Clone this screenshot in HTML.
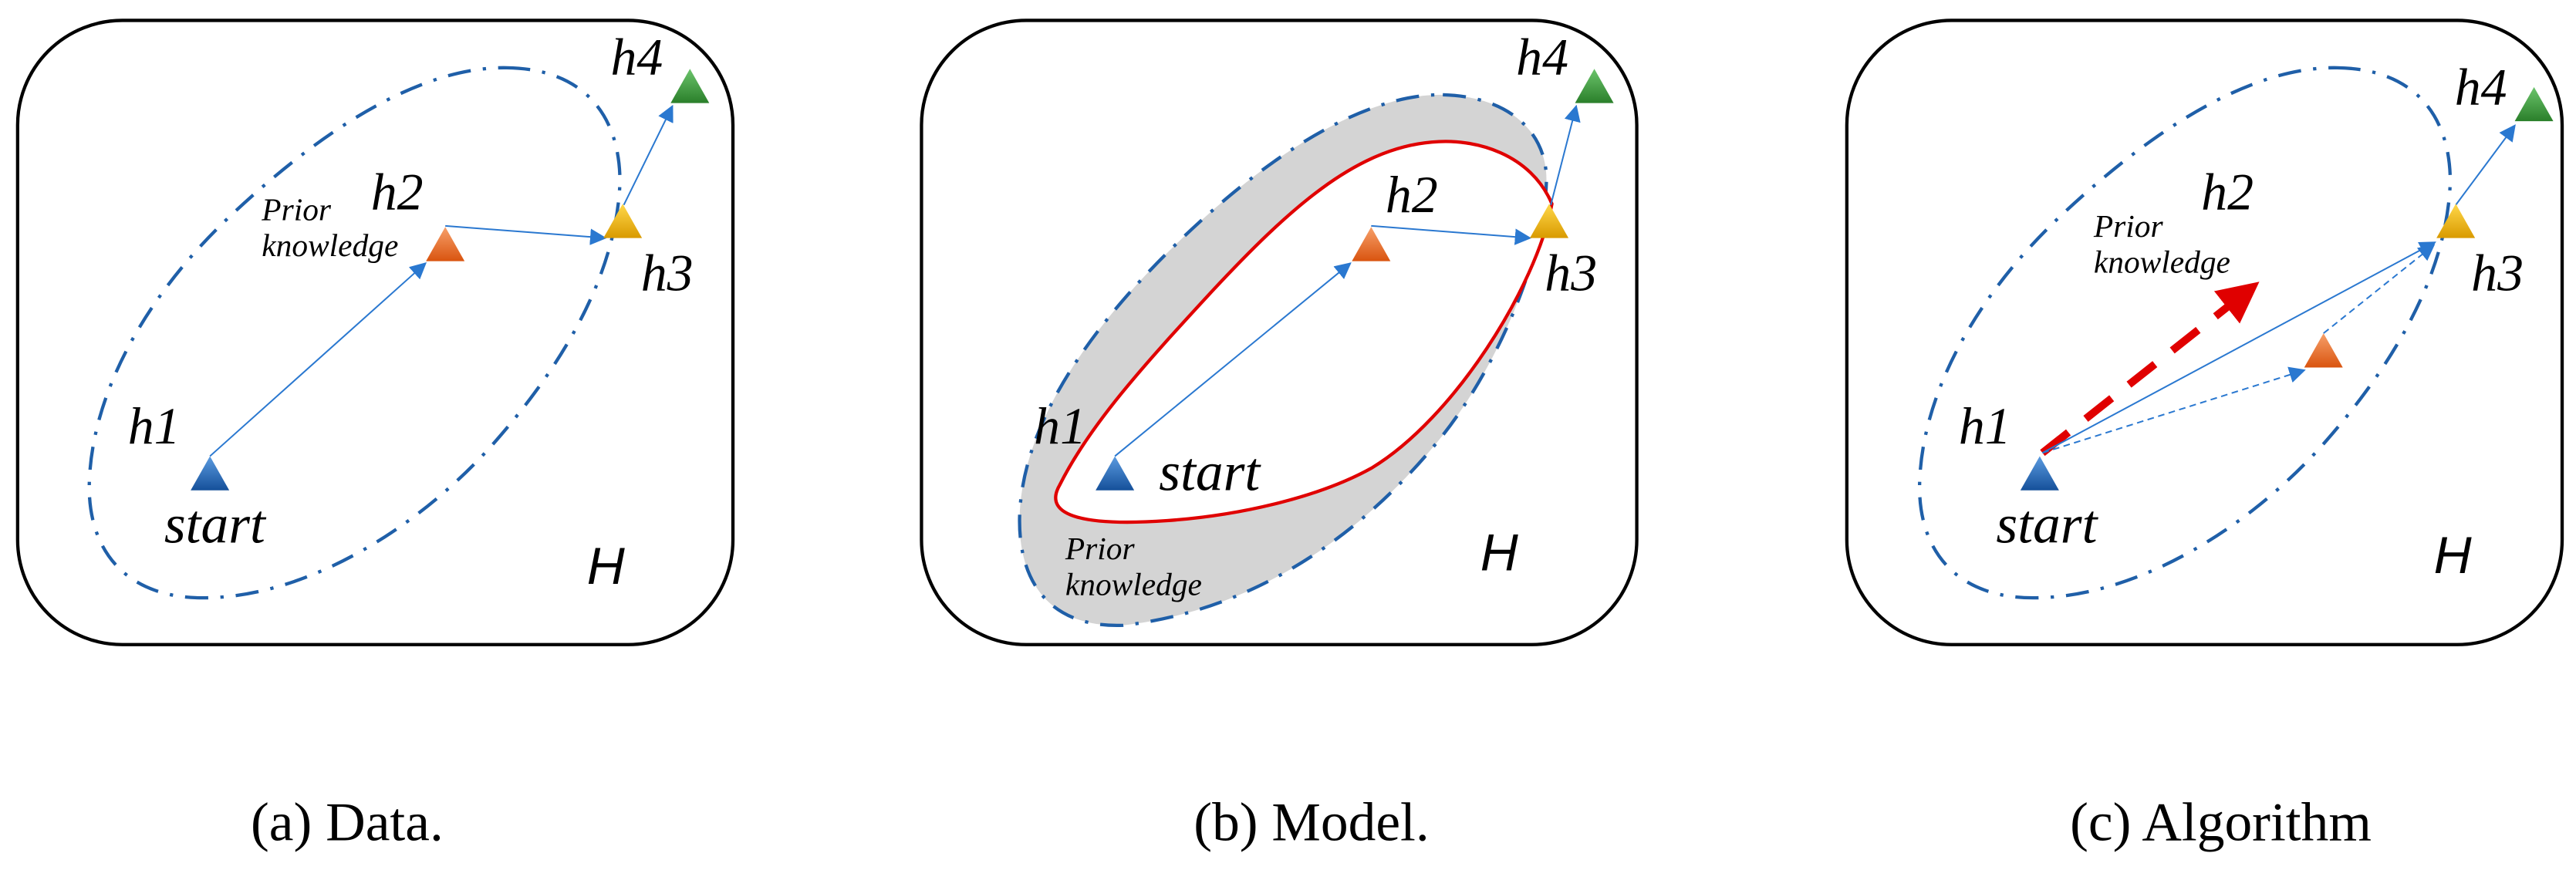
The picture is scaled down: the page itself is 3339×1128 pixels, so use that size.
<!DOCTYPE html>
<html><head><meta charset="utf-8"><style>html,body{margin:0;padding:0;background:#fff}svg{display:block}</style></head>
<body>
<svg width="3339" height="1128" viewBox="0 0 3339 1128" xmlns="http://www.w3.org/2000/svg">
<defs>
<linearGradient id="gb" x1="0" y1="0" x2="0" y2="1"><stop offset="0" stop-color="#5b9be0"/><stop offset="1" stop-color="#15509a"/></linearGradient>
<linearGradient id="go" x1="0" y1="0" x2="0" y2="1"><stop offset="0" stop-color="#f7a06a"/><stop offset="1" stop-color="#d9540f"/></linearGradient>
<linearGradient id="gy" x1="0" y1="0" x2="0" y2="1"><stop offset="0" stop-color="#ffd84a"/><stop offset="1" stop-color="#d99a00"/></linearGradient>
<linearGradient id="gg" x1="0" y1="0" x2="0" y2="1"><stop offset="0" stop-color="#6cc46c"/><stop offset="1" stop-color="#2a7f2a"/></linearGradient>
<marker id="ah" viewBox="0 0 10 10" refX="9" refY="5" markerWidth="7" markerHeight="7" orient="auto" markerUnits="userSpaceOnUse"><path d="M0,0 L10,5 L0,10 z" fill="#2a78d0"/></marker>
<marker id="ahb" viewBox="0 0 10 10" refX="9" refY="5" markerWidth="30" markerHeight="30" orient="auto" markerUnits="userSpaceOnUse"><path d="M0,0 L10,5 L0,10 z" fill="#2a78d0"/></marker>
<marker id="ahr" viewBox="0 0 10 10" refX="6" refY="5" markerWidth="75" markerHeight="75" orient="auto" markerUnits="userSpaceOnUse"><path d="M0,0 L10,5 L0,10 z" fill="#e00000"/></marker>
</defs>
<style>
.hl{font-family:"Liberation Serif",serif;font-style:italic;font-size:95px;fill:#000}
.st{font-family:"Liberation Serif",serif;font-style:italic;font-size:100px;fill:#000}
.H{font-family:"Liberation Sans",sans-serif;font-style:italic;font-size:95px;fill:#000}
.pk{font-family:"Liberation Serif",serif;font-style:italic;font-size:58px;fill:#000}
.cap{font-family:"Liberation Serif",serif;font-size:100px;fill:#000}
.box{fill:none;stroke:#000;stroke-width:6}
.ell{fill:none;stroke:#1f5fa8;stroke-width:6;stroke-dasharray:42 22 6 22}
.ar{stroke:#2a78d0;stroke-width:2.8;fill:none}
</style>

<!-- Panel a -->
<g transform="translate(0,0) scale(0.7143)">
<rect class="box" x="32" y="37" width="1298" height="1133" rx="190"/>
<path class="ell" d="M 920 123 C 1060 125, 1125 210, 1125 330 C 1120 480, 1040 640, 900 800 C 760 960, 560 1080, 380 1085 C 230 1090, 160 1000, 162 880 C 165 720, 260 540, 420 390 C 580 240, 760 120, 920 123 Z"/>
<line class="ar" x1="381" y1="828" x2="772" y2="478" marker-end="url(#ahb)"/>
<line class="ar" x1="808" y1="410" x2="1098" y2="432" marker-end="url(#ahb)"/>
<line class="ar" x1="1132" y1="372" x2="1220" y2="193" marker-end="url(#ahb)"/>
<polygon points="381,828 346,890 416,890" fill="url(#gb)"/>
<polygon points="808,412 773,474 843,474" fill="url(#go)"/>
<polygon points="1130,370 1095,432 1165,432" fill="url(#gy)"/>
<polygon points="1252,125 1217,187 1287,187" fill="url(#gg)"/>
<text class="hl" x="232" y="805">h1</text>
<text class="st" x="298" y="985">start</text>
<text class="hl" x="673" y="380">h2</text>
<text class="hl" x="1163" y="527">h3</text>
<text class="hl" x="1108" y="135">h4</text>
<text class="H" x="1065" y="1060">H</text>
<text class="pk" x="475" y="400">Prior</text>
<text class="pk" x="475" y="465">knowledge</text>
<text class="cap" x="455" y="1525">(a) Data.</text>
</g>

<!-- Panel b -->
<g transform="translate(1113,0) scale(0.7143)">
<rect class="box" x="114" y="37" width="1298" height="1133" rx="190"/>
<path class="ell" fill="#d4d4d4" style="fill:#d4d4d4" d="M 1060 172 C 1180 175, 1250 240, 1248 330 C 1245 450, 1170 650, 1060 790 C 900 990, 700 1110, 480 1135 C 350 1140, 290 1060, 292 940 C 295 800, 380 650, 520 500 C 700 310, 900 170, 1060 172 Z"/>
<path d="M 365 880 C 330 940, 420 955, 560 945 C 700 935, 840 900, 930 850 C 1080 760, 1230 520, 1258 370 C 1220 280, 1120 250, 1040 258 C 900 270, 780 380, 640 530 C 520 660, 420 770, 365 880 Z" fill="#fff" stroke="#e00000" stroke-width="6"/>
<line class="ar" x1="465" y1="828" x2="892" y2="478" marker-end="url(#ahb)"/>
<line class="ar" x1="930" y1="410" x2="1218" y2="432" marker-end="url(#ahb)"/>
<line class="ar" x1="1256" y1="372" x2="1302" y2="193" marker-end="url(#ahb)"/>
<polygon points="465,828 430,890 500,890" fill="url(#gb)"/>
<polygon points="930,412 895,474 965,474" fill="url(#go)"/>
<polygon points="1253,370 1218,432 1288,432" fill="url(#gy)"/>
<polygon points="1335,125 1300,187 1370,187" fill="url(#gg)"/>
<text class="hl" x="318" y="805">h1</text>
<text class="st" x="545" y="890">start</text>
<text class="hl" x="956" y="385">h2</text>
<text class="hl" x="1245" y="527">h3</text>
<text class="hl" x="1193" y="135">h4</text>
<text class="H" x="1128" y="1035">H</text>
<text class="pk" x="375" y="1015">Prior</text>
<text class="pk" x="375" y="1080">knowledge</text>
<text class="cap" x="608" y="1525">(b) Model.</text>
</g>

<!-- Panel c -->
<g transform="translate(2226,0) scale(0.7143)">
<rect class="box" x="235" y="37" width="1298" height="1133" rx="190"/>
<path class="ell" transform="translate(205,0)" d="M 920 123 C 1060 125, 1125 210, 1125 330 C 1120 480, 1040 640, 900 800 C 760 960, 560 1080, 380 1085 C 230 1090, 160 1000, 162 880 C 165 720, 260 540, 420 390 C 580 240, 760 120, 920 123 Z"/>
<line x1="590" y1="822" x2="960" y2="530" stroke="#e00000" stroke-width="14" stroke-dasharray="60 40" marker-end="url(#ahr)"/>
<line class="ar" x1="590" y1="822" x2="1302" y2="440" marker-end="url(#ahb)"/>
<line class="ar" x1="590" y1="822" x2="1065" y2="672" stroke-dasharray="12 8" marker-end="url(#ahb)"/>
<line class="ar" x1="1100" y1="605" x2="1300" y2="445" stroke-dasharray="12 8" marker-end="url(#ahb)"/>
<line class="ar" x1="1340" y1="372" x2="1447" y2="228" marker-end="url(#ahb)"/>
<polygon points="585,828 550,890 620,890" fill="url(#gb)"/>
<polygon points="1100,605 1065,667 1135,667" fill="url(#go)"/>
<polygon points="1340,370 1305,432 1375,432" fill="url(#gy)"/>
<polygon points="1482,158 1447,220 1517,220" fill="url(#gg)"/>
<text class="hl" x="438" y="805">h1</text>
<text class="st" x="506" y="985">start</text>
<text class="hl" x="878" y="380">h2</text>
<text class="hl" x="1368" y="527">h3</text>
<text class="hl" x="1338" y="190">h4</text>
<text class="H" x="1300" y="1040">H</text>
<text class="pk" x="683" y="430">Prior</text>
<text class="pk" x="683" y="495">knowledge</text>
<text class="cap" x="640" y="1525">(c) Algorithm</text>
</g>
</svg>
</body></html>
